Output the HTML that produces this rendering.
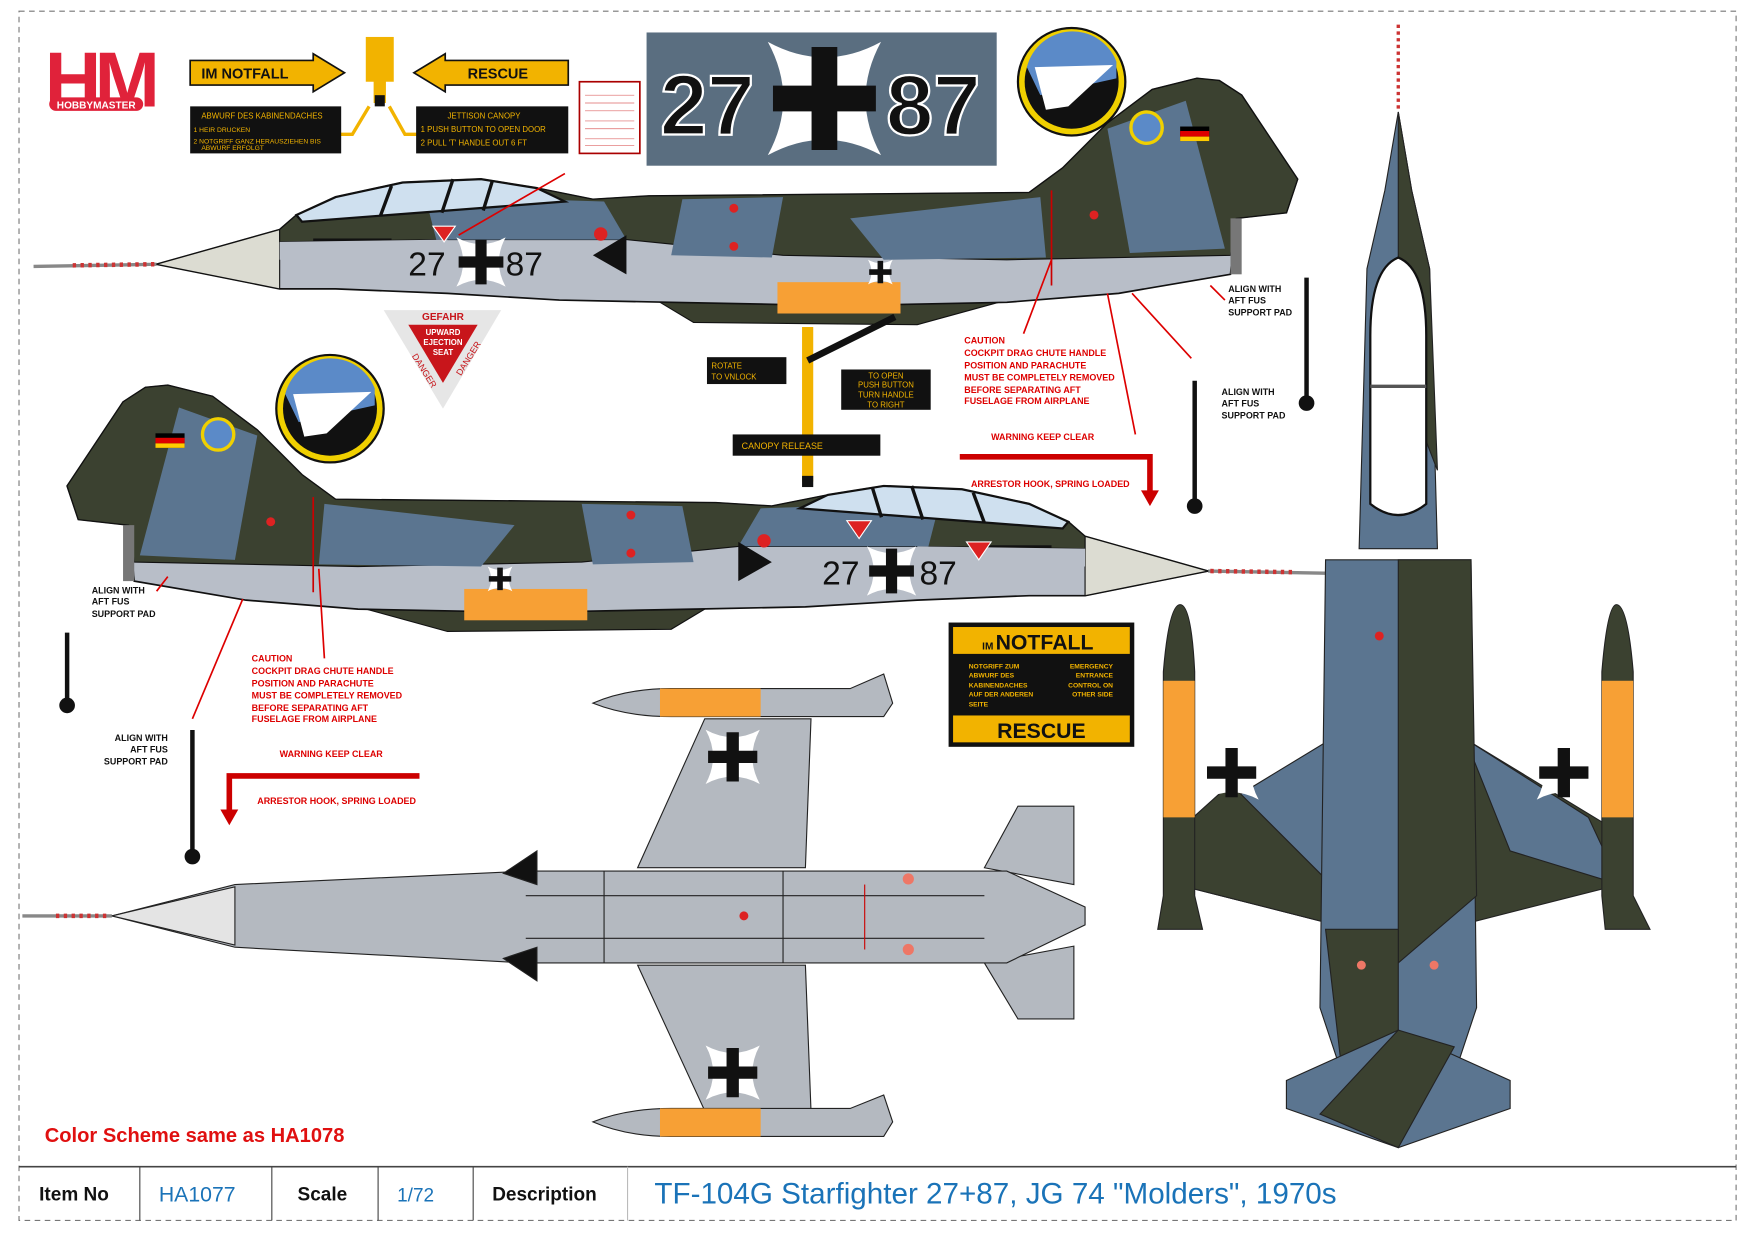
<!DOCTYPE html>
<html><head><meta charset="utf-8"><style>
html,body{margin:0;padding:0;background:#fff}
svg{display:block}
text{font-family:"Liberation Sans",sans-serif}
</style></head><body>
<svg width="1754" height="1235" viewBox="0 0 1568 1103" preserveAspectRatio="none" xmlns="http://www.w3.org/2000/svg">
<defs>
<g id="side">
  <line x1="30" y1="238" x2="140" y2="236" stroke="#888" stroke-width="3"/>
  <line x1="65" y1="237" x2="138" y2="236" stroke="#c33" stroke-width="4" stroke-dasharray="3 4"/>
  <polygon points="590,270 620,252 880,252 900,268 820,290 620,288" fill="#3a3f2e" stroke="#111"/>
  <polygon points="140,236 250,205 265,192 300,176 360,163 430,160 480,168 530,178 580,175 920,172 950,150 990,110 1030,80 1070,70 1090,72 1110,85 1160,160 1150,190 1105,195 1100,245 1000,262 900,270 800,272 700,272 600,270 500,268 400,262 300,258 250,258" fill="#b8bec8" stroke="#111" stroke-width="1.5"/>
  <polygon points="140,236 250,205 250,258" fill="#dcdcd2" stroke="#111"/>
  <polygon points="250,205 265,192 300,176 360,163 430,160 480,168 530,178 580,175 920,172 950,150 990,110 1030,80 1070,70 1090,72 1110,85 1160,160 1150,190 1105,195 1100,228 900,232 700,228 560,214 400,214 250,216" fill="#3b4130" stroke="#111"/>
  <polygon points="380,175 540,180 560,214 390,214" fill="#5b7590"/>
  <polygon points="610,178 700,176 690,230 600,228" fill="#5b7590"/>
  <polygon points="760,195 930,176 935,230 790,232" fill="#5b7590"/>
  <polygon points="990,115 1060,90 1095,222 1010,226" fill="#5b7590"/>
  <polygon points="265,192 300,176 360,163 430,160 480,168 505,180 270,198" fill="#cfe0ef" stroke="#111" stroke-width="2"/>
  <line x1="350" y1="166" x2="340" y2="193" stroke="#111" stroke-width="3"/>
  <line x1="405" y1="160" x2="395" y2="190" stroke="#111" stroke-width="3"/>
  <line x1="440" y1="162" x2="432" y2="188" stroke="#111" stroke-width="3"/>
  <rect x="1100" y="195" width="10" height="50" fill="#777"/>
  <polygon points="530,228 560,210 560,245" fill="#111"/>
  <rect x="695" y="252" width="110" height="28" fill="#f7a035"/>
  <circle cx="656" cy="186" r="4" fill="#d22"/><circle cx="656" cy="220" r="4" fill="#d22"/>
  <circle cx="978" cy="192" r="4" fill="#d22"/><circle cx="537" cy="209" r="6" fill="#d22"/>
  <rect x="1055" y="113" width="26" height="13" fill="#000"/><rect x="1055" y="117" width="26" height="5" fill="#d00"/><rect x="1055" y="122" width="26" height="4" fill="#fc0"/>
  <circle cx="1025" cy="114" r="14" fill="#5b8ac8" stroke="#f0d000" stroke-width="3"/>
  <line x1="940" y1="170" x2="940" y2="255" stroke="#c00" stroke-width="1.5"/>
  <rect x="280" y="213" width="70" height="18" fill="#111"/>
  <polygon points="250,216 400,214 400,232 250,232" fill="#b8bec8"/>
</g>
<g id="cross">
  <path d="M-22,-22 Q0,-10 22,-22 Q10,0 22,22 Q0,10 -22,22 Q-10,0 -22,-22Z" fill="#fff"/>
  <path d="M-5,-20 H5 V-5 H20 V5 H5 V20 H-5 V5 H-20 V-5 H-5Z" fill="#111"/>
</g>
</defs>

<rect x="17" y="10" width="1535" height="1080" fill="none" stroke="#777" stroke-width="1" stroke-dasharray="5 4"/>

<text x="40" y="95" font-size="70" font-weight="bold" fill="#e0223a" style="letter-spacing:-6px">HM</text>
<rect x="44" y="87" width="84" height="12" rx="6" fill="#e0223a"/>
<text x="86" y="97" font-size="9" font-weight="bold" fill="#fff" text-anchor="middle">HOBBYMASTER</text>

<polygon points="170,54 280,54 280,48 308,65 280,82 280,76 170,76" fill="#f2b300" stroke="#111" stroke-width="1.5"/>
<text x="180" y="70" font-size="13" font-weight="bold" fill="#111" font-family="Liberation Mono">IM NOTFALL</text>
<polygon points="508,54 398,54 398,48 370,65 398,82 398,76 508,76" fill="#f2b300" stroke="#111" stroke-width="1.5"/>
<text x="418" y="70" font-size="13" font-weight="bold" fill="#111" font-family="Liberation Mono">RESCUE</text>
<rect x="327" y="33" width="25" height="40" fill="#f2b300"/>
<rect x="334" y="72" width="11" height="20" fill="#f2b300"/><rect x="335" y="85" width="9" height="10" fill="#111"/>
<polyline points="330,95 315,120 260,120" fill="none" stroke="#f2b300" stroke-width="3"/>
<polyline points="348,95 362,120 375,120" fill="none" stroke="#f2b300" stroke-width="3"/>
<rect x="170" y="95" width="135" height="42" fill="#111"/>
<text x="180" y="106" font-size="7" fill="#f2b300">ABWURF DES KABINENDACHES</text>
<text x="173" y="118" font-size="6" fill="#f2b300">1 HEIR DRUCKEN</text>
<text x="173" y="128" font-size="6" fill="#f2b300">2 NOTGRIFF GANZ HERAUSZIEHEN BIS</text>
<text x="180" y="134" font-size="6" fill="#f2b300">ABWURF ERFOLGT</text>
<rect x="372" y="95" width="136" height="42" fill="#111"/>
<text x="400" y="106" font-size="7" fill="#f2b300">JETTISON CANOPY</text>
<text x="376" y="118" font-size="7" fill="#f2b300">1 PUSH BUTTON TO OPEN DOOR</text>
<text x="376" y="130" font-size="7" fill="#f2b300">2 PULL 'T' HANDLE OUT 6 FT</text>
<rect x="518" y="73" width="54" height="64" fill="#fff" stroke="#a00" stroke-width="1.5"/>
<g stroke="#d66" stroke-width="0.6"><line x1="523" y1="85" x2="567" y2="85"/><line x1="523" y1="92" x2="567" y2="92"/><line x1="523" y1="99" x2="567" y2="99"/><line x1="523" y1="108" x2="567" y2="108"/><line x1="523" y1="115" x2="567" y2="115"/><line x1="523" y1="124" x2="567" y2="124"/><line x1="523" y1="130" x2="567" y2="130"/></g>

<rect x="578" y="29" width="313" height="119" fill="#5a6e80"/>
<text x="590" y="120" font-size="76" font-weight="bold" fill="#111" stroke="#fff" stroke-width="2">27</text>
<text x="792" y="120" font-size="76" font-weight="bold" fill="#111" stroke="#fff" stroke-width="2">87</text>
<use href="#cross" transform="translate(737,88) scale(2.3)"/>

<circle cx="958" cy="73" r="48" fill="#f0d000" stroke="#111" stroke-width="2"/>
<circle cx="958" cy="73" r="42" fill="#111"/>
<path d="M918,60 A42,42 0 0 1 998,55 L998,70 L930,85Z" fill="#5b8ac8"/>
<polygon points="925,60 995,58 955,95 935,98" fill="#fff"/>

<use href="#side"/>
<text x="365" y="246" font-size="30" fill="#111">27</text>
<text x="452" y="246" font-size="30" fill="#111">87</text>
<use href="#cross" transform="translate(430,234) scale(1)"/>
<polygon points="387,202 407,202 397,216" fill="#d22" stroke="#fff"/>
<line x1="505" y1="155" x2="410" y2="210" stroke="#d00" stroke-width="1.5"/>
<use href="#cross" transform="translate(787,243) scale(0.5)"/>

<use href="#side" transform="translate(1220,274) scale(-1,1)"/>
<text x="735" y="522" font-size="30" fill="#111">27</text>
<text x="822" y="522" font-size="30" fill="#111">87</text>
<use href="#cross" transform="translate(797,510) scale(1)"/>
<polygon points="757,465 779,465 768,481" fill="#d22" stroke="#fff"/>
<polygon points="864,484 886,484 875,500" fill="#d22" stroke="#fff"/>
<use href="#cross" transform="translate(447,517) scale(0.5)"/>
<circle cx="295" cy="365" r="48" fill="#f0d000" stroke="#111" stroke-width="2"/>
<circle cx="295" cy="365" r="42" fill="#111"/>
<path d="M255,352 A42,42 0 0 1 335,347 L335,362 L267,377Z" fill="#5b8ac8"/>
<polygon points="262,352 332,350 292,387 272,390" fill="#fff"/>

<polygon points="343,277 448,277 396,365" fill="#e6e6e6"/>
<polygon points="365,290 427,290 396,342" fill="#c8151b"/>
<text x="396" y="286" font-size="9" fill="#c8151b" text-anchor="middle" font-weight="bold">GEFAHR</text>
<text x="396" y="299" font-size="7" fill="#fff" text-anchor="middle" font-weight="bold">UPWARD</text>
<text x="396" y="308" font-size="7" fill="#fff" text-anchor="middle" font-weight="bold">EJECTION</text>
<text x="396" y="317" font-size="7" fill="#fff" text-anchor="middle" font-weight="bold">SEAT</text>
<text x="368" y="318" font-size="8" fill="#c8151b" transform="rotate(58 368 318)">DANGER</text>
<text x="412" y="336" font-size="8" fill="#c8151b" transform="rotate(-58 412 336)">DANGER</text>

<line x1="722" y1="292" x2="722" y2="430" stroke="#f2b300" stroke-width="10"/>
<line x1="722" y1="322" x2="800" y2="283" stroke="#111" stroke-width="6"/>
<rect x="717" y="425" width="10" height="10" fill="#111"/>
<rect x="632" y="319" width="71" height="24" fill="#111"/>
<text x="636" y="329" font-size="7" fill="#f2b300" font-family="Liberation Mono">ROTATE</text>
<text x="636" y="339" font-size="7" fill="#f2b300" font-family="Liberation Mono">TO VNLOCK</text>
<rect x="752" y="330" width="80" height="36" fill="#111"/>
<text x="792" y="338" font-size="7" fill="#f2b300" text-anchor="middle" font-family="Liberation Mono">TO OPEN</text>
<text x="792" y="346" font-size="7" fill="#f2b300" text-anchor="middle" font-family="Liberation Mono">PUSH BUTTON</text>
<text x="792" y="355" font-size="7" fill="#f2b300" text-anchor="middle" font-family="Liberation Mono">TURN HANDLE</text>
<text x="792" y="364" font-size="7" fill="#f2b300" text-anchor="middle" font-family="Liberation Mono">TO RIGHT</text>
<rect x="655" y="388" width="132" height="19" fill="#111"/>
<text x="663" y="401" font-size="8" fill="#f2b300" font-family="Liberation Mono">CANOPY    RELEASE</text>

<g fill="#d00" font-size="8" font-weight="bold">
<text x="862" y="307">CAUTION</text>
<text x="862" y="318">COCKPIT DRAG CHUTE HANDLE</text>
<text x="862" y="329">POSITION AND PARACHUTE</text>
<text x="862" y="340">MUST BE COMPLETELY REMOVED</text>
<text x="862" y="351">BEFORE SEPARATING AFT</text>
<text x="862" y="361">FUSELAGE FROM AIRPLANE</text>
<text x="886" y="393">WARNING    KEEP CLEAR</text>
<text x="868" y="435">ARRESTOR HOOK, SPRING LOADED</text>
<text x="225" y="591">CAUTION</text>
<text x="225" y="602">COCKPIT DRAG CHUTE HANDLE</text>
<text x="225" y="613">POSITION AND PARACHUTE</text>
<text x="225" y="624">MUST BE COMPLETELY REMOVED</text>
<text x="225" y="635">BEFORE SEPARATING AFT</text>
<text x="225" y="645">FUSELAGE FROM AIRPLANE</text>
<text x="250" y="676">WARNING    KEEP CLEAR</text>
<text x="230" y="718">ARRESTOR HOOK, SPRING LOADED</text>
</g>
<polyline points="858,408 1028,408 1028,440" fill="none" stroke="#c00" stroke-width="5"/>
<polygon points="1020,438 1036,438 1028,452" fill="#c00"/>
<polyline points="375,693 205,693 205,725" fill="none" stroke="#c00" stroke-width="5"/>
<polygon points="197,723 213,723 205,737" fill="#c00"/>
<g stroke="#d00" stroke-width="1.5">
<line x1="915" y1="298" x2="940" y2="232"/><line x1="1015" y1="388" x2="990" y2="262"/>
<line x1="1065" y1="320" x2="1012" y2="262"/><line x1="1095" y1="268" x2="1082" y2="255"/>
<line x1="290" y1="588" x2="285" y2="508"/><line x1="172" y1="642" x2="217" y2="535"/>
<line x1="140" y1="528" x2="150" y2="515"/>
</g>

<g stroke="#111" stroke-width="4"><line x1="1168" y1="248" x2="1168" y2="358"/><line x1="1068" y1="340" x2="1068" y2="450"/><line x1="60" y1="565" x2="60" y2="628"/><line x1="172" y1="652" x2="172" y2="763"/></g>
<g fill="#111"><circle cx="1168" cy="360" r="7"/><circle cx="1068" cy="452" r="7"/><circle cx="60" cy="630" r="7"/><circle cx="172" cy="765" r="7"/></g>
<g fill="#111" font-size="8" font-weight="bold">
<text x="1098" y="261">ALIGN WITH</text><text x="1098" y="271">AFT FUS</text><text x="1098" y="282">SUPPORT PAD</text>
<text x="1092" y="353">ALIGN WITH</text><text x="1092" y="363">AFT FUS</text><text x="1092" y="374">SUPPORT PAD</text>
<text x="82" y="530">ALIGN WITH</text><text x="82" y="540">AFT FUS</text><text x="82" y="551">SUPPORT PAD</text>
<text x="150" y="662" text-anchor="end">ALIGN WITH</text><text x="150" y="672" text-anchor="end">AFT FUS</text><text x="150" y="683" text-anchor="end">SUPPORT PAD</text>
</g>

<rect x="848" y="556" width="166" height="111" fill="#111"/>
<rect x="852" y="560" width="158" height="24" fill="#f2b300"/>
<rect x="852" y="639" width="158" height="24" fill="#f2b300"/>
<text x="878" y="580" font-size="9" font-weight="bold" fill="#111">IM</text>
<text x="890" y="580" font-size="19" font-weight="bold" fill="#111">NOTFALL</text>
<text x="931" y="659" font-size="19" font-weight="bold" fill="#111" text-anchor="middle">RESCUE</text>
<g fill="#f2b300" font-size="6" font-weight="bold">
<text x="866" y="597">NOTGRIFF ZUM</text><text x="866" y="605">ABWURF DES</text><text x="866" y="614">KABINENDACHES</text><text x="866" y="622">AUF DER ANDEREN</text><text x="866" y="631">SEITE</text>
<text x="995" y="597" text-anchor="end">EMERGENCY</text><text x="995" y="605" text-anchor="end">ENTRANCE</text><text x="995" y="614" text-anchor="end">CONTROL ON</text><text x="995" y="622" text-anchor="end">OTHER SIDE</text>
</g>

<g stroke="#222" stroke-width="1">
<line x1="20" y1="818" x2="100" y2="818" stroke="#888" stroke-width="3"/>
<line x1="50" y1="818" x2="98" y2="818" stroke="#c33" stroke-width="4" stroke-dasharray="3 4"/>
<polygon points="570,775 630,642 725,642 720,775" fill="#b4b9c0"/>
<polygon points="570,862 630,992 725,992 720,862" fill="#b4b9c0"/>
<path d="M530,628 Q560,615 600,615 L760,615 L790,602 L798,628 L790,640 L600,640 Q560,640 530,628Z" fill="#b4b9c0"/>
<rect x="590" y="615" width="90" height="25" fill="#f7a035" stroke="none"/>
<path d="M530,1002 Q560,990 600,990 L760,990 L790,978 L798,1002 L790,1015 L600,1015 Q560,1015 530,1002Z" fill="#b4b9c0"/>
<rect x="590" y="990" width="90" height="25" fill="#f7a035" stroke="none"/>
<polygon points="880,775 910,720 960,720 960,790" fill="#b4b9c0"/>
<polygon points="880,860 910,910 960,910 960,845" fill="#b4b9c0"/>
<polygon points="100,818 210,790 470,778 900,778 970,810 970,826 900,860 470,860 210,846" fill="#b4b9c0"/>
<polygon points="100,818 210,792 210,844" fill="#e4e4e4"/>
<polygon points="450,780 480,760 480,790" fill="#111"/>
<polygon points="450,856 480,876 480,846" fill="#111"/>
<line x1="540" y1="778" x2="540" y2="860"/><line x1="700" y1="778" x2="700" y2="860"/><line x1="470" y1="800" x2="880" y2="800"/><line x1="470" y1="838" x2="880" y2="838"/>
</g>
<use href="#cross" transform="translate(655,676) scale(1.1)"/>
<use href="#cross" transform="translate(655,958) scale(1.1)"/>
<circle cx="665" cy="818" r="4" fill="#d22"/><circle cx="812" cy="785" r="5" fill="#e76"/><circle cx="812" cy="848" r="5" fill="#e76"/>
<line x1="773" y1="790" x2="773" y2="848" stroke="#c00"/>

<g stroke="#222" stroke-width="1">
<line x1="1250" y1="22" x2="1250" y2="100" stroke="#c33" stroke-width="3" stroke-dasharray="3 3"/>
<polygon points="1250,100 1262,170 1278,240 1285,490 1215,490 1222,240 1238,170" fill="#5b7590"/>
<polygon points="1250,100 1262,170 1278,240 1285,420 1250,330" fill="#3b4130"/>
<path d="M1250,230 Q1275,240 1275,300 L1275,450 Q1250,470 1225,450 L1225,300 Q1225,240 1250,230Z" fill="#fff" stroke="#111" stroke-width="2"/>
<line x1="1225" y1="345" x2="1275" y2="345" stroke="#555" stroke-width="3"/>
<polygon points="1190,660 1050,745 1052,790 1190,825" fill="#5b7590"/>
<polygon points="1050,745 1052,790 1190,825 1190,790 1100,700" fill="#3b4130"/>
<polygon points="1310,660 1450,745 1448,790 1310,825" fill="#3b4130"/>
<polygon points="1310,660 1420,730 1448,790 1350,760" fill="#5b7590"/>
<polygon points="1185,500 1315,500 1320,900 1300,960 1200,960 1180,900" fill="#5b7590"/>
<polygon points="1250,500 1315,500 1320,800 1250,860" fill="#3b4130"/>
<polygon points="1185,830 1250,830 1250,960 1200,960" fill="#3b4130"/>
<polygon points="1150,965 1250,920 1350,965 1350,990 1250,1025 1150,990" fill="#5b7590"/>
<polygon points="1180,995 1250,920 1300,935 1250,1025" fill="#3b4130"/>
<path d="M1055,540 Q1065,540 1068,600 L1068,800 L1075,830 L1035,830 L1040,800 L1040,600 Q1045,540 1055,540Z" fill="#3b4130"/>
<rect x="1040" y="608" width="28" height="122" fill="#f7a035" stroke="none"/>
<path d="M1445,540 Q1455,540 1460,600 L1460,800 L1475,830 L1435,830 L1432,800 L1432,600 Q1437,540 1445,540Z" fill="#3b4130"/>
<rect x="1432" y="608" width="28" height="122" fill="#f7a035" stroke="none"/>
</g>
<use href="#cross" transform="translate(1101,690) scale(1.1)"/>
<use href="#cross" transform="translate(1398,690) scale(1.1)"/>
<circle cx="1217" cy="862" r="4" fill="#e76"/><circle cx="1282" cy="862" r="4" fill="#e76"/><circle cx="1233" cy="568" r="4" fill="#d22"/>

<text x="40" y="1020" font-size="18" font-weight="bold" fill="#e01010">Color Scheme same as HA1078</text>
<line x1="17" y1="1042" x2="1552" y2="1042" stroke="#444" stroke-width="1.5"/>
<g stroke="#444" stroke-width="1"><line x1="125" y1="1042" x2="125" y2="1090"/><line x1="243" y1="1042" x2="243" y2="1090"/><line x1="338" y1="1042" x2="338" y2="1090"/><line x1="423" y1="1042" x2="423" y2="1090"/><line x1="561" y1="1042" x2="561" y2="1090" stroke="#bbb"/></g>
<text x="35" y="1072" font-size="17" font-weight="bold" fill="#111">Item No</text>
<text x="142" y="1073" font-size="19" fill="#1a73b8">HA1077</text>
<text x="266" y="1072" font-size="17" font-weight="bold" fill="#111">Scale</text>
<text x="355" y="1073" font-size="17" fill="#1a73b8">1/72</text>
<text x="440" y="1072" font-size="17" font-weight="bold" fill="#111">Description</text>
<text x="585" y="1075" font-size="26.5" fill="#1a73b8">TF-104G Starfighter 27+87, JG 74 "Molders", 1970s</text>
</svg>
</body></html>
